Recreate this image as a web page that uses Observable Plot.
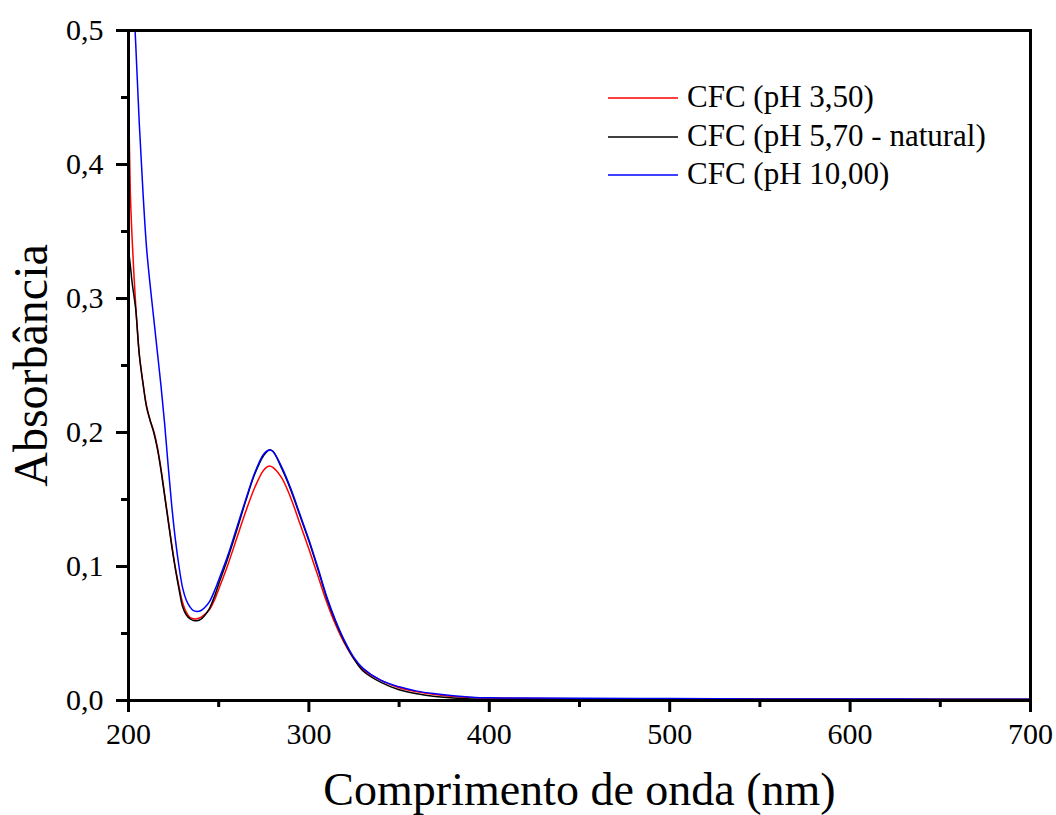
<!DOCTYPE html>
<html>
<head>
<meta charset="utf-8">
<script src="https://cdn.jsdelivr.net/npm/d3@7"></script>
<script src="https://cdn.jsdelivr.net/npm/@observablehq/plot@0.6"></script>
<style>
  html, body { margin: 0; padding: 0; background: #fff; }
  #chart { width: 1056px; height: 815px; }
</style>
</head>
<body>
<div id="chart"></div>
<script>
const wavelength = [200, 201, 202, 204, 206, 208, 210, 212, 214, 216, 218, 220, 222, 224, 226, 228, 230, 232, 234, 236, 238, 240, 242, 245, 248, 250, 255, 260, 265, 270, 275, 278, 280, 285, 290, 295, 300, 305, 310, 315, 320, 325, 330, 340, 350, 360, 370, 380, 390, 400, 420, 450, 500, 550, 600, 650, 700];

const absPH350 = [0.460, 0.380, 0.345, 0.295, 0.258, 0.237, 0.220, 0.209, 0.201, 0.189, 0.173, 0.154, 0.135, 0.116, 0.099, 0.085, 0.073, 0.066, 0.062, 0.061, 0.061, 0.062, 0.064, 0.068, 0.076, 0.083, 0.101, 0.121, 0.141, 0.159, 0.172, 0.175, 0.174, 0.166, 0.151, 0.132, 0.113, 0.093, 0.073, 0.056, 0.042, 0.031, 0.023, 0.015, 0.0095, 0.0065, 0.0045, 0.003, 0.0022, 0.0018, 0.0015, 0.0013, 0.0012, 0.0011, 0.001, 0.001, 0.001];

const absPH570 = [0.336, 0.325, 0.312, 0.292, 0.258, 0.237, 0.219, 0.209, 0.200, 0.188, 0.172, 0.153, 0.134, 0.115, 0.098, 0.083, 0.070, 0.064, 0.061, 0.0597, 0.0595, 0.0605, 0.063, 0.069, 0.079, 0.087, 0.106, 0.127, 0.149, 0.169, 0.183, 0.187, 0.186, 0.173, 0.157, 0.138, 0.119, 0.098, 0.076, 0.058, 0.043, 0.031, 0.022, 0.0135, 0.008, 0.005, 0.003, 0.0018, 0.0012, 0.001, 0.0009, 0.0008, 0.0008, 0.0008, 0.0007, 0.0007, 0.0007];

const absPH1000 = [0.600, 0.570, 0.545, 0.490, 0.430, 0.380, 0.338, 0.310, 0.285, 0.260, 0.235, 0.207, 0.175, 0.145, 0.120, 0.100, 0.084, 0.075, 0.070, 0.067, 0.0665, 0.067, 0.069, 0.074, 0.083, 0.090, 0.108, 0.129, 0.150, 0.170, 0.184, 0.187, 0.186, 0.174, 0.158, 0.139, 0.120, 0.099, 0.077, 0.059, 0.044, 0.032, 0.024, 0.015, 0.0102, 0.007, 0.005, 0.0035, 0.0025, 0.002, 0.0018, 0.0016, 0.0014, 0.0012, 0.0011, 0.001, 0.001];

const seriesNames = ["CFC (pH 3,50)", "CFC (pH 5,70 - natural)", "CFC (pH 10,00)"];
const seriesColors = ["#ff0000", "#000000", "#0000ff"];
const seriesValues = [absPH350, absPH570, absPH1000];

const xMajorTicks = [200, 300, 400, 500, 600, 700];
const xMinorTicks = [250, 350, 450, 550, 650];
const yMajorTicks = [0, 0.1, 0.2, 0.3, 0.4, 0.5];
const yMinorTicks = [0.05, 0.15, 0.25, 0.35, 0.45];

const xLabel = "Comprimento de onda (nm)";
const yLabel = "Absorbância";

const rows = [];
seriesNames.forEach((name, i) => {
  wavelength.forEach((w, j) => rows.push({series: name, x: w, y: seriesValues[i][j]}));
});

const fontFamily = "'Liberation Serif', 'Times New Roman', serif";

const plot = Plot.plot({
  width: 1056,
  height: 815,
  marginLeft: 128,
  marginRight: 26,
  marginTop: 30,
  marginBottom: 115,
  style: {fontFamily, background: "#fff", color: "#000"},
  x: {domain: [200, 700]},
  y: {domain: [0, 0.5]},
  color: {domain: seriesNames, range: seriesColors},
  marks: [
    Plot.line(rows, {x: "x", y: "y", z: "series", stroke: "series", strokeWidth: 1.5, curve: "catmull-rom", clip: true}),
    Plot.axisX({ticks: xMajorTicks, tickSize: 12, tickPadding: 10, strokeWidth: 3, fontSize: 30, label: null, tickFormat: d => String(d)}),
    Plot.axisX({ticks: xMinorTicks, tickSize: 7, strokeWidth: 3, text: null, label: null}),
    Plot.axisY({ticks: yMajorTicks, tickSize: 12, tickPadding: 13, strokeWidth: 3, fontSize: 30, label: null, tickFormat: d => d.toFixed(1).replace(".", ",")}),
    Plot.axisY({ticks: yMinorTicks, tickSize: 7, strokeWidth: 3, text: null, label: null}),
    Plot.frame({stroke: "#000", strokeWidth: 3}),
    Plot.text([yLabel], {frameAnchor: "left", rotate: -90, dx: -97, fontSize: 48, fill: "#000", textAnchor: "middle", lineAnchor: "middle"}),
    Plot.text([xLabel], {frameAnchor: "bottom", dy: 90, fontSize: 46, fill: "#000", textAnchor: "middle", lineAnchor: "middle"})
  ]
});

document.getElementById("chart").appendChild(plot);

// Legend drawn onto the plot's SVG
const svg = d3.select(plot);
const legend = svg.append("g").attr("font-family", fontFamily).attr("font-size", 31).attr("text-anchor", "start");
const legendRowY = [98, 137, 175];
seriesNames.forEach((name, i) => {
  const g = legend.append("g").attr("transform", `translate(608,${legendRowY[i]})`);
  g.append("line").attr("x1", 0).attr("x2", 70).attr("y1", 0).attr("y2", 0)
    .attr("stroke", seriesColors[i]).attr("stroke-width", 1.5);
  g.append("text").attr("x", 79).attr("y", 0).attr("dy", "0.3em").attr("fill", "#000").attr("text-anchor", "start").text(name);
});
</script>
</body>
</html>
